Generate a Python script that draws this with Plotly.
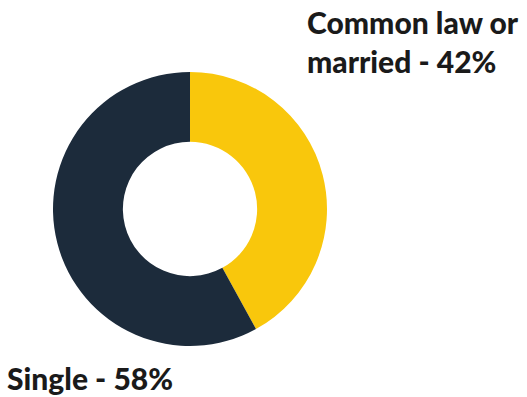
import plotly.graph_objects as go

W, H = 527, 397

labels = ["Common law or married", "Single"]
values = [42, 58]
colors = ["#F9C70C", "#1C2B3B"]

fig = go.Figure(go.Pie(
    labels=labels,
    values=values,
    hole=0.49,
    sort=False,
    direction="clockwise",
    rotation=0,
    marker=dict(colors=colors, line=dict(width=0)),
    textinfo="none",
    hoverinfo="label+percent",
    domain=dict(x=[53 / W, 327 / W], y=[1 - 346 / H, 1 - 72 / H]),
    showlegend=False,
))

font = dict(family="Lato, 'Noto Sans', sans-serif", size=30, weight=900, color="#1A1A1A")

fig.add_annotation(
    text=f"Common law or<br>married - {values[0]}%",
    x=305 / W, y=1 - 2 / H, xref="paper", yref="paper",
    xanchor="left", yanchor="top", align="left",
    showarrow=False, font=font,
)
fig.add_annotation(
    text=f"{labels[1]} - {values[1]}%",
    x=5 / W, y=1 - 358 / H, xref="paper", yref="paper",
    xanchor="left", yanchor="top", align="left",
    showarrow=False, font=font,
)

fig.update_layout(
    width=W, height=H,
    margin=dict(l=0, r=0, t=0, b=0),
    paper_bgcolor="white", plot_bgcolor="white",
)

fig.write_html("out.html")
